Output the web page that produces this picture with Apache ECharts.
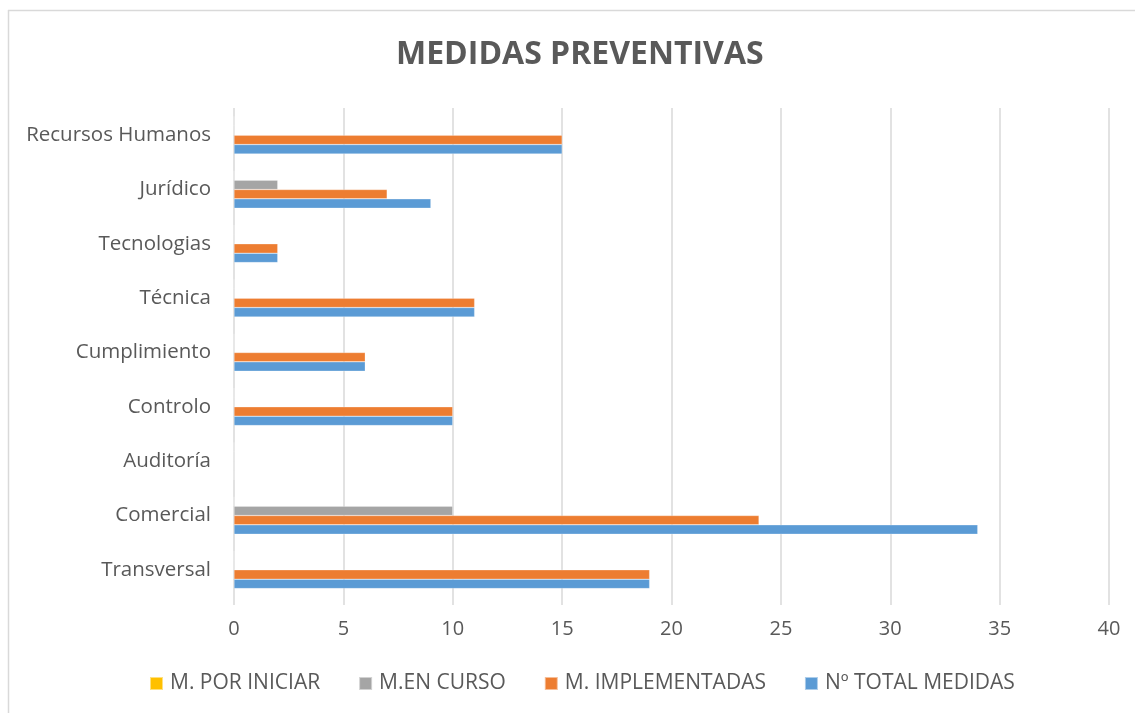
<!DOCTYPE html>
<html>
<head>
<meta charset="utf-8">
<title>Medidas preventivas</title>
<script src="https://cdn.jsdelivr.net/npm/echarts@6/dist/echarts.min.js"></script>
<style>
  html, body { margin: 0; padding: 0; background: #fff; }
  #chart { width: 1135px; height: 713px; }
</style>
</head>
<body>
<div id="chart"></div>
<script>
  // categories listed bottom -> top
  const categories = ["Transversal", "Comercial", "Auditoría", "Controlo", "Cumplimiento", "Técnica", "Tecnologias", "Jurídico", "Recursos Humanos"];
  const totalMedidas = [19, 34, 0, 10, 6, 11, 2, 9, 15];
  const implementadas = [19, 24, 0, 10, 6, 11, 2, 7, 15];
  const enCurso = [0, 10, 0, 0, 0, 0, 0, 2, 0];
  const porIniciar = [0, 0, 0, 0, 0, 0, 0, 0, 0];

  const textColor = "#595959";
  const gridColor = "#d9d9d9";
  const font = "'Open Sans', sans-serif";

  const chart = echarts.init(document.getElementById("chart"), null, { renderer: "canvas" });

  function bar(name, data, color) {
    return {
      name: name,
      type: "bar",
      data: data,
      barGap: "0%",
      barCategoryGap: "31%",
      itemStyle: { color: color, borderColor: "rgba(255,255,255,0.5)", borderWidth: 0.5 }
    };
  }

  chart.setOption({
    animation: false,
    title: {
      text: "MEDIDAS PREVENTIVAS",
      left: 391,
      top: 34,
      textStyle: { color: textColor, fontFamily: font, fontWeight: "bold", fontSize: 32 }
    },
    legend: {
      left: 144,
      top: 668,
      icon: "rect",
      itemWidth: 13,
      itemHeight: 13,
      itemGap: 38,
      textStyle: { color: textColor, fontFamily: font, fontSize: 21, padding: [0, 0, 0, 2] }
    },
    grid: { left: 234, right: 26, top: 108, bottom: 116, containLabel: false },
    xAxis: {
      type: "value",
      min: 0,
      max: 40,
      interval: 5,
      axisLine: { show: false },
      axisTick: { show: true, length: 8, lineStyle: { color: gridColor, width: 1.5 } },
      axisLabel: { color: textColor, fontFamily: font, fontSize: 20, margin: 22 },
      splitLine: { show: true, lineStyle: { color: gridColor, width: 1.5 } }
    },
    yAxis: {
      type: "category",
      data: categories,
      axisLine: { show: false },
      axisTick: { show: false },
      axisLabel: { color: textColor, fontFamily: font, fontSize: 20.5, margin: 23, padding: [4, 0, 0, 0] }
    },
    // series[0] sits at the top of each band, so the total goes last
    series: [
      bar("M. POR INICIAR", porIniciar, "#ffc000"),
      bar("M.EN CURSO", enCurso, "#a5a5a5"),
      bar("M. IMPLEMENTADAS", implementadas, "#ed7d31"),
      bar("Nº TOTAL MEDIDAS", totalMedidas, "#5b9bd5")
    ],
    graphic: [
      { type: "line", shape: { x1: 8, y1: 10.5, x2: 1135, y2: 10.5 }, style: { stroke: gridColor, lineWidth: 1.5 }, silent: true },
      { type: "line", shape: { x1: 8.5, y1: 10, x2: 8.5, y2: 713 }, style: { stroke: gridColor, lineWidth: 1.5 }, silent: true }
    ]
  });
</script>
</body>
</html>
